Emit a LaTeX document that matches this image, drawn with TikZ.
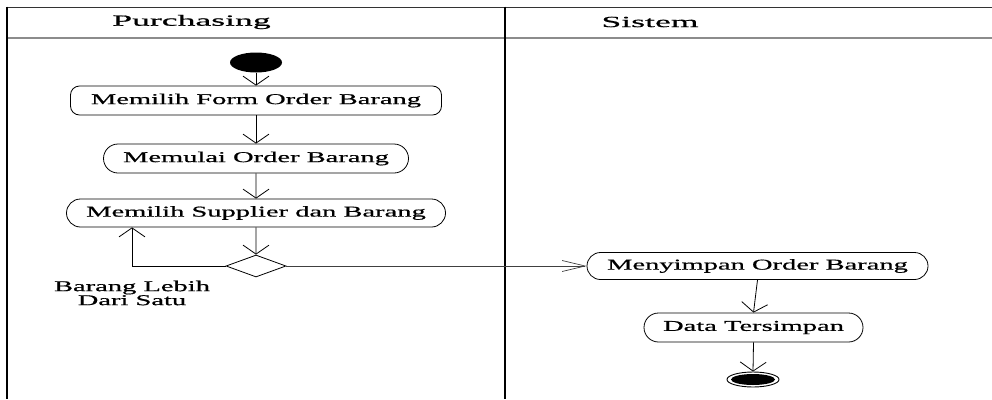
\documentclass[tikz,border=0pt]{standalone}
\usepackage{fontspec}
\setmainfont{Liberation Serif}[FakeStretch=1.9,FakeBold=0.7]
\newfontfamily\lanefont{Liberation Serif}[FakeStretch=2.3,FakeBold=0.8]
\usetikzlibrary{shapes.misc,shapes.geometric,arrows.meta}
\begin{document}
\begin{tikzpicture}[x=1pt,y=-1pt,
  txt/.style={font=\fontsize{15}{14}\selectfont},
  act/.style={draw,rounded rectangle,line width=0.8pt,inner sep=0pt,txt},
  actbox/.style={draw,rectangle,rounded corners=9pt,line width=0.8pt,inner sep=0pt,txt},
  vflow/.style={line width=0.8pt,-{Straight Barb[length=9pt,width=26pt,line width=0.8pt]}},
  hflow/.style={line width=0.6pt,draw=black!75,-{Straight Barb[length=23pt,width=11pt,line width=0.7pt]}},
  lane/.style={line width=2pt},
]
\useasboundingbox (0,0) rectangle (992,399);

% swimlane frame
\draw[line width=1.4pt,black!80] (7,7.3) -- (992,7.3);
\draw[line width=1.6pt,black!45] (7,38) -- (992,38);
\draw[lane] (7,6.5) -- (7,399);
\draw[lane] (505,6.5) -- (505,399);

\node[font=\fontsize{15.5}{15}\selectfont] (h1) at (191.5,22) {\lanefont Purchasing};
\node[font=\fontsize{15.5}{15}\selectfont] (h2) at (650,22) {\lanefont Sistem};

% Purchasing lane
\node[ellipse,fill=black,inner sep=0pt,minimum width=52pt,minimum height=20pt] (start) at (256,62.5) {};
\node[actbox,minimum width=371pt,minimum height=29pt] (n1) at (256,100.5) {Memilih Form Order Barang};
\node[act,minimum width=305pt,minimum height=29pt] (n2) at (256,158.5) {Memulai Order Barang};
\node[act,minimum width=379pt,minimum height=28pt] (n3) at (256,213) {Memilih Supplier dan Barang};
\node[diamond,draw,line width=0.8pt,inner sep=0pt,minimum width=60pt,minimum height=22pt] (dec) at (256,266) {};
\node[txt,align=center,inner sep=0pt] (lbl) at (132,293) {Barang Lebih\\Dari Satu};
\coordinate (loopx) at (132,0);

% Sistem lane
\node[act,minimum width=341pt,minimum height=27pt] (n4) at (757.5,266) {Menyimpan Order Barang};
\node[act,minimum width=219pt,minimum height=29pt] (n5) at (753.5,327.5) {Data Tersimpan};
\node[ellipse,draw,line width=0.9pt,inner sep=0pt,minimum width=52pt,minimum height=15pt] (endo) at (753,379.5) {};
\node[ellipse,fill=black,inner sep=0pt,minimum width=44pt,minimum height=11pt] (endi) at (endo.center) {};

% flows
\draw[vflow] (start) -- (n1);
\draw[vflow] (n1) -- (n2);
\draw[vflow] (n2) -- (n3);
\draw[vflow] (n3) -- (dec);
\draw[vflow] (dec.west) -| (loopx |- n3.south);
\draw[hflow] (dec.east) -- (n4.west);
\draw[vflow] (n4.south) -- (n5.north);
\draw[vflow] (n5.south) -- (endo.north);
\end{tikzpicture}
\end{document}
